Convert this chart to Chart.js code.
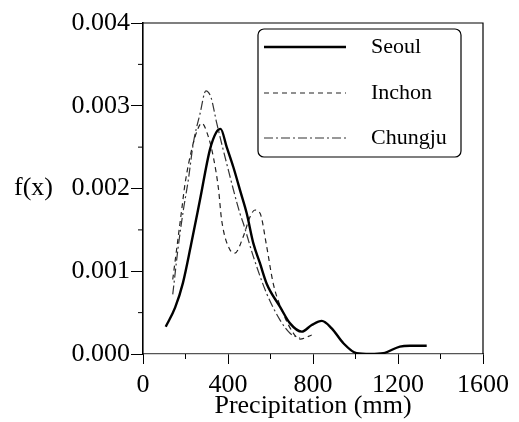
<!DOCTYPE html>
<html>
<head>
<meta charset="utf-8">
<script src="https://cdn.jsdelivr.net/npm/chart.js@4/dist/chart.umd.min.js"></script>
<style>
  html, body { margin: 0; padding: 0; background: #fff; }
  #wrap { width: 519px; height: 422px; }
</style>
</head>
<body>
<div id="wrap"><canvas id="grafico"></canvas></div>
<script>
// dados
const seoulX = [107, 151, 188, 226, 268, 315, 345, 365, 394, 425, 460, 488, 519, 550, 582, 645, 692, 747, 794, 841, 888, 943, 1005, 1070, 1131, 1209, 1256, 1335]
const seoulY = [0.00033, 0.00056, 0.00086, 0.00132, 0.00186, 0.00247, 0.00268, 0.00272, 0.0025, 0.00226, 0.00195, 0.0017, 0.00134, 0.0011, 0.00085, 0.00057, 0.00037, 0.00027, 0.00035, 0.0004, 0.00031, 0.00013, 0.00001, 0, 0.00001, 0.00009, 0.0001, 0.0001]

const inchonX = [140, 160, 182, 198, 229, 255, 276, 307, 331, 355, 370, 409, 433, 472, 504, 527, 551, 582, 613, 660, 708, 739, 794]
const inchonY = [0.0009, 0.0013, 0.00174, 0.00206, 0.00247, 0.0027, 0.00279, 0.00263, 0.00238, 0.002, 0.00162, 0.00126, 0.00122, 0.00142, 0.00166, 0.00174, 0.0017, 0.0013, 0.00085, 0.00049, 0.00025, 0.00018, 0.00023]

const chungjuX = [140, 166, 190, 213, 237, 268, 296, 320, 347, 394, 456, 472, 519, 582, 645, 692, 739]
const chungjuY = [0.00072, 0.0013, 0.00174, 0.0021, 0.00255, 0.0029, 0.00318, 0.0031, 0.00279, 0.0023, 0.0017, 0.00158, 0.00118, 0.00073, 0.00041, 0.00025, 0.00019]

const xTicks = [0, 400, 800, 1200, 1600]
const yTicks = [0, 0.001, 0.002, 0.003, 0.004]

const fonte = '"Liberation Serif", "Times New Roman", serif'

function pares(xs, ys) {
    return xs.map((x, i) => ({ x: x, y: ys[i] }))
}

const datasets = [
    { label: 'Seoul', data: pares(seoulX, seoulY), borderColor: '#000', borderWidth: 2.4, borderDash: [] },
    { label: 'Inchon', data: pares(inchonX, inchonY), borderColor: '#222', borderWidth: 1.2, borderDash: [5, 4] },
    { label: 'Chungju', data: pares(chungjuX, chungjuY), borderColor: '#333', borderWidth: 1.2, borderDash: [9, 3, 2, 3] }
]
datasets.forEach(d => {
    d.fill = false
    d.pointRadius = 0
    d.cubicInterpolationMode = 'monotone'
})

// moldura, ticks menores, f(x) e legenda
const extras = {
    id: 'extras',
    afterDraw(chart) {
        const ctx = chart.ctx
        const a = chart.chartArea
        const sx = chart.scales.x
        const sy = chart.scales.y
        ctx.save()

        ctx.strokeStyle = '#000'
        ctx.lineWidth = 1.2
        ctx.beginPath()
        ctx.moveTo(a.left, a.top)
        ctx.lineTo(a.right, a.top)
        ctx.lineTo(a.right, a.bottom)
        ctx.stroke()

        ctx.lineWidth = 1
        ctx.beginPath()
        for (let v = 200; v < 1600; v += 400) {
            const p = sx.getPixelForValue(v)
            ctx.moveTo(p, a.bottom)
            ctx.lineTo(p, a.bottom + 5)
        }
        for (let v = 0.0005; v < 0.004; v += 0.001) {
            const p = sy.getPixelForValue(v)
            ctx.moveTo(a.left, p)
            ctx.lineTo(a.left - 5, p)
        }
        ctx.stroke()

        ctx.fillStyle = '#000'
        ctx.font = '26px ' + fonte
        ctx.textAlign = 'left'
        ctx.textBaseline = 'middle'
        ctx.fillText('f(x)', 14, sy.getPixelForValue(0.002))

        // legenda
        const lx = a.left + 115, ly = a.top + 6, lw = 203, lh = 128, r = 6
        ctx.lineWidth = 1.2
        ctx.beginPath()
        ctx.moveTo(lx + r, ly)
        ctx.arcTo(lx + lw, ly, lx + lw, ly + lh, r)
        ctx.arcTo(lx + lw, ly + lh, lx, ly + lh, r)
        ctx.arcTo(lx, ly + lh, lx, ly, r)
        ctx.arcTo(lx, ly, lx + lw, ly, r)
        ctx.closePath()
        ctx.fillStyle = '#fff'
        ctx.fill()
        ctx.stroke()

        const linhas = [18, 64, 109]
        ctx.font = '22px ' + fonte
        chart.data.datasets.forEach((d, i) => {
            const yy = ly + linhas[i]
            ctx.strokeStyle = d.borderColor
            ctx.lineWidth = d.borderWidth
            ctx.setLineDash(d.borderDash)
            ctx.beginPath()
            ctx.moveTo(lx + 6, yy)
            ctx.lineTo(lx + 88, yy)
            ctx.stroke()
            ctx.setLineDash([])
            ctx.fillStyle = '#000'
            ctx.fillText(d.label, lx + 113, yy)
        })
        ctx.restore()
    }
}

const config = {
    type: 'line',
    data: { datasets },
    options: {
        responsive: true,
        maintainAspectRatio: false,
        animation: false,
        layout: { padding: { top: 23, right: 36, left: 0, bottom: 0 } },
        plugins: { legend: { display: false }, tooltip: { enabled: false } },
        scales: {
            x: {
                type: 'linear',
                min: 0,
                max: 1600,
                afterBuildTicks: s => { s.ticks = xTicks.map(v => ({ value: v })) },
                afterFit: s => { s.height = 68 },
                ticks: {
                    color: '#000',
                    font: { family: fonte, size: 26 },
                    padding: 6,
                    maxRotation: 0,
                    callback: v => String(v)
                },
                grid: { drawOnChartArea: false, tickLength: 10, color: '#000' },
                border: { color: '#555', width: 1.2 },
                title: {
                    display: true,
                    text: 'Precipitation (mm)',
                    color: '#000',
                    font: { family: fonte, size: 26 },
                    padding: { top: -14, bottom: 0 }
                }
            },
            y: {
                min: 0,
                max: 0.004,
                afterBuildTicks: s => { s.ticks = yTicks.map(v => ({ value: v })) },
                afterFit: s => { s.width = 143 },
                ticks: {
                    color: '#000',
                    font: { family: fonte, size: 26 },
                    padding: 1,
                    callback: v => v.toFixed(3)
                },
                grid: { drawOnChartArea: false, tickLength: 12, color: '#000' },
                border: { color: '#000', width: 1.6 }
            }
        }
    },
    plugins: [extras]
}

const meuGrafico = new Chart(document.getElementById('grafico'), config)
</script>
</body>
</html>
